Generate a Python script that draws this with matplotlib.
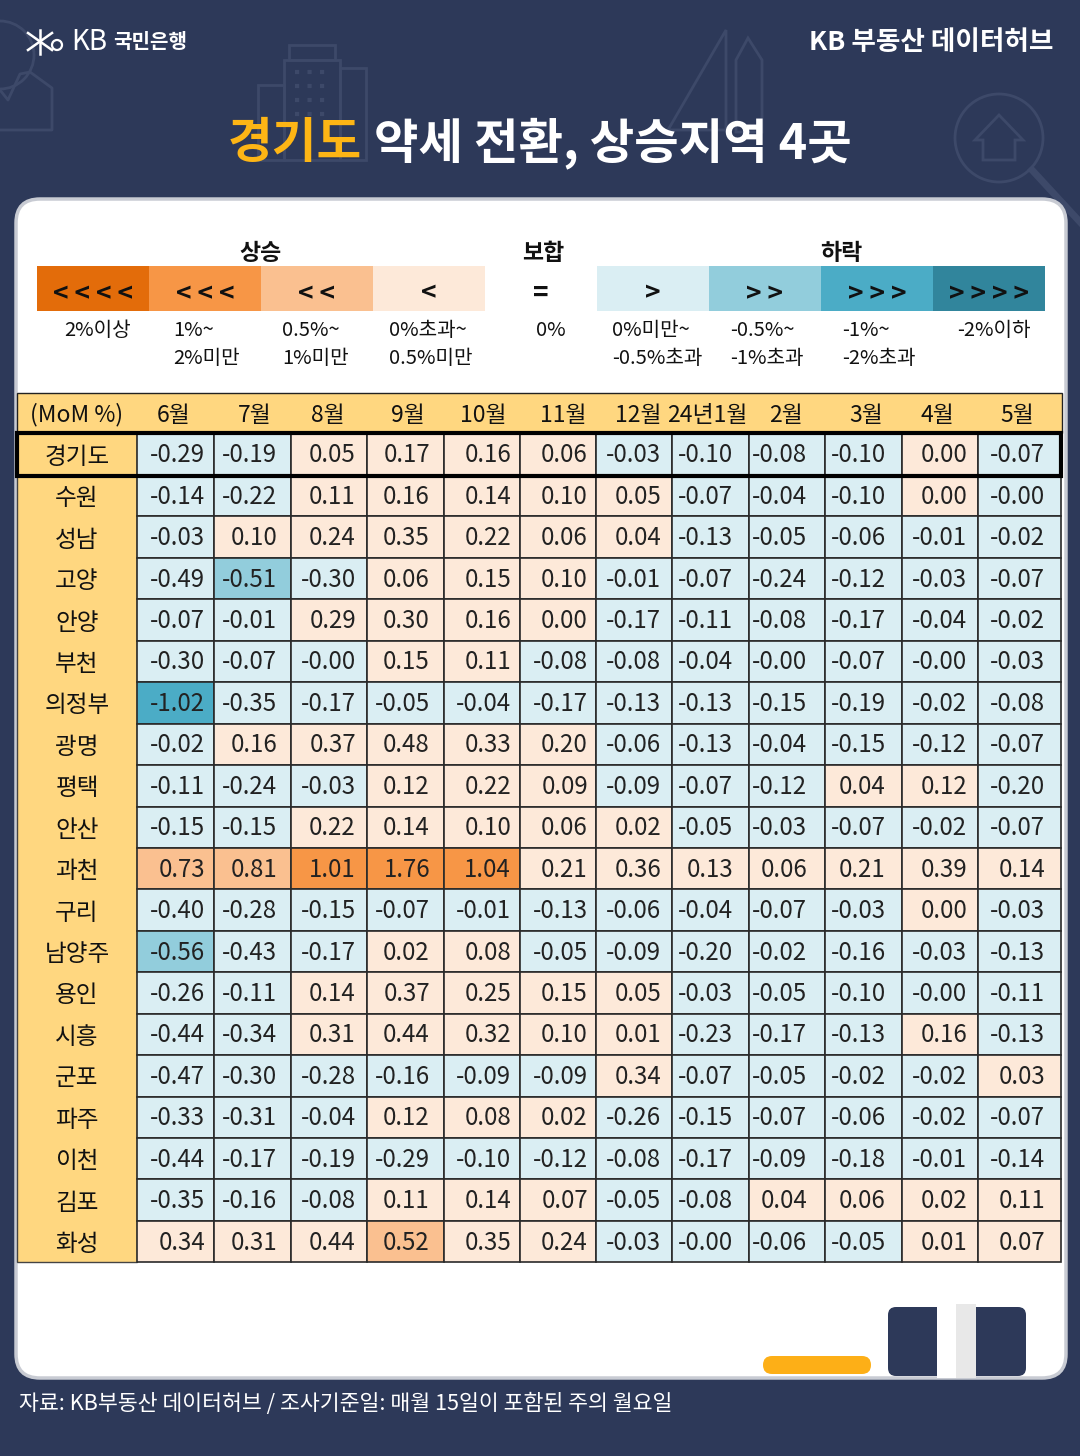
import matplotlib
matplotlib.use('Agg')
import matplotlib.pyplot as plt
from matplotlib.patches import Rectangle, FancyBboxPatch, Circle, Polygon

plt.rcParams['font.family'] = ['Noto Sans CJK KR', 'DejaVu Sans']

months = ['6월', '7월', '8월', '9월', '10월', '11월', '12월', '24년1월', '2월', '3월', '4월', '5월']
regions = ['경기도', '수원', '성남', '고양', '안양', '부천', '의정부', '광명', '평택', '안산',
           '과천', '구리', '남양주', '용인', '시흥', '군포', '파주', '이천', '김포', '화성']
# 문자열로 둔다 (-0.00 과 0.00 색이 다름)
values = [
    '-0.29 -0.19 0.05 0.17 0.16 0.06 -0.03 -0.10 -0.08 -0.10 0.00 -0.07'.split(),
    '-0.14 -0.22 0.11 0.16 0.14 0.10 0.05 -0.07 -0.04 -0.10 0.00 -0.00'.split(),
    '-0.03 0.10 0.24 0.35 0.22 0.06 0.04 -0.13 -0.05 -0.06 -0.01 -0.02'.split(),
    '-0.49 -0.51 -0.30 0.06 0.15 0.10 -0.01 -0.07 -0.24 -0.12 -0.03 -0.07'.split(),
    '-0.07 -0.01 0.29 0.30 0.16 0.00 -0.17 -0.11 -0.08 -0.17 -0.04 -0.02'.split(),
    '-0.30 -0.07 -0.00 0.15 0.11 -0.08 -0.08 -0.04 -0.00 -0.07 -0.00 -0.03'.split(),
    '-1.02 -0.35 -0.17 -0.05 -0.04 -0.17 -0.13 -0.13 -0.15 -0.19 -0.02 -0.08'.split(),
    '-0.02 0.16 0.37 0.48 0.33 0.20 -0.06 -0.13 -0.04 -0.15 -0.12 -0.07'.split(),
    '-0.11 -0.24 -0.03 0.12 0.22 0.09 -0.09 -0.07 -0.12 0.04 0.12 -0.20'.split(),
    '-0.15 -0.15 0.22 0.14 0.10 0.06 0.02 -0.05 -0.03 -0.07 -0.02 -0.07'.split(),
    '0.73 0.81 1.01 1.76 1.04 0.21 0.36 0.13 0.06 0.21 0.39 0.14'.split(),
    '-0.40 -0.28 -0.15 -0.07 -0.01 -0.13 -0.06 -0.04 -0.07 -0.03 0.00 -0.03'.split(),
    '-0.56 -0.43 -0.17 0.02 0.08 -0.05 -0.09 -0.20 -0.02 -0.16 -0.03 -0.13'.split(),
    '-0.26 -0.11 0.14 0.37 0.25 0.15 0.05 -0.03 -0.05 -0.10 -0.00 -0.11'.split(),
    '-0.44 -0.34 0.31 0.44 0.32 0.10 0.01 -0.23 -0.17 -0.13 0.16 -0.13'.split(),
    '-0.47 -0.30 -0.28 -0.16 -0.09 -0.09 0.34 -0.07 -0.05 -0.02 -0.02 0.03'.split(),
    '-0.33 -0.31 -0.04 0.12 0.08 0.02 -0.26 -0.15 -0.07 -0.06 -0.02 -0.07'.split(),
    '-0.44 -0.17 -0.19 -0.29 -0.10 -0.12 -0.08 -0.17 -0.09 -0.18 -0.01 -0.14'.split(),
    '-0.35 -0.16 -0.08 0.11 0.14 0.07 -0.05 -0.08 0.04 0.06 0.02 0.11'.split(),
    '0.34 0.31 0.44 0.52 0.35 0.24 -0.03 -0.00 -0.06 -0.05 0.01 0.07'.split(),
]

up_colors = ['#E36C0A', '#F79646', '#FAC090', '#FDE9D9']
down_colors = ['#DAEEF3', '#92CDDC', '#4BACC6', '#31859C']
up_marks = ['< < < <', '< < <', '< <', '<']
down_marks = ['>', '> >', '> > >', '> > > >']
up_labels = ['2%이상', '1%~\n2%미만', '0.5%~\n1%미만', '0%초과~\n0.5%미만']
down_labels = ['0%미만~\n-0.5%초과', '-0.5%~\n-1%초과', '-1%~\n-2%초과', '-2%이하']

NAVY = '#2D3959'
DECO = '#3D4969'
YELLOW = '#FFD780'

col_edges = [137, 214, 291, 367, 444, 520, 596, 672, 749, 825, 902, 978, 1061]
num_right = [205, 277, 356, 430, 511, 588, 661, 733, 807, 886, 967, 1045]
month_x = [174, 255, 328, 408, 483, 563, 638, 707, 786, 866, 937, 1017]


def cell_color(s):
    v = float(s)
    if s.startswith('-'):
        if v > -0.5:
            return down_colors[0]
        if v > -1:
            return down_colors[1]
        if v > -2:
            return down_colors[2]
        return down_colors[3]
    if v < 0.5:
        return up_colors[3]
    if v < 1:
        return up_colors[2]
    if v < 2:
        return up_colors[1]
    return up_colors[0]


fig = plt.figure(figsize=(10.8, 14.56), dpi=100, facecolor=NAVY)
ax = fig.add_axes([0, 0, 1, 1])
ax.set_xlim(0, 1080)
ax.set_ylim(1456, 0)
ax.axis('off')

# 배경 장식
deco = dict(fill=False, ec=DECO, lw=2, zorder=1)
ax.add_patch(Circle((0, 55), 34, **deco))
ax.plot([0, 8, 20, 30, 52, 52, 0], [90, 100, 74, 72, 88, 130, 130], color=DECO, lw=2, zorder=1)
ax.add_patch(Rectangle((284, 60), 56, 100, **deco))
ax.add_patch(Rectangle((289, 45), 46, 15, **deco))
ax.add_patch(Rectangle((258, 85), 26, 75, **deco))
ax.add_patch(Rectangle((340, 68), 26, 92, **deco))
for y in (72, 86, 100, 114):
    ax.plot([295, 331], [y, y], color=DECO, lw=3, ls=(0, (1, 2)), zorder=1)
ax.add_patch(Polygon([(726, 30), (726, 130), (668, 130)], **deco))
ax.add_patch(Polygon([(736, 132), (736, 60), (748, 38), (762, 60), (762, 132)], **deco))
ax.add_patch(Circle((999, 138), 44, **deco))
ax.add_patch(Polygon([(975, 140), (999, 115), (1023, 140), (1015, 140), (1015, 160), (983, 160), (983, 140)], **deco))
ax.plot([1032, 1080], [170, 222], color=DECO, lw=5, zorder=1)

# 상단 로고, 제목
ax.plot([28, 52], [33, 50], color='white', lw=1.8, zorder=3)
ax.plot([28, 52], [50, 33], color='white', lw=1.8, zorder=3)
ax.plot([40, 40], [30, 54], color='white', lw=1.8, zorder=3)
ax.add_patch(Circle((57, 45), 5, fill=False, ec='white', lw=1.6, zorder=3))
ax.text(71, 42, 'KB', color='white', fontsize=20, va='center', ha='left')
ax.text(113, 42, '국민은행', color='white', fontsize=14.5, va='center', ha='left', fontweight='bold')
ax.text(1053, 43, 'KB 부동산 데이터허브', color='white', fontsize=19.2, va='center', ha='right', fontweight='bold')
ax.text(362, 143, '경기도', color='#FDB515', fontsize=35, va='center', ha='right', fontweight='black')
ax.text(374, 143, '약세 전환, 상승지역 4곳', color='white', fontsize=34.8, va='center', ha='left', fontweight='black')

# 흰 카드
ax.add_patch(FancyBboxPatch((16, 199), 1050, 1179, boxstyle='round,pad=0,rounding_size=24',
                            fc='white', ec='#C8CBD3', lw=2.5, zorder=2))

# 범례
seg_w = 112
for i in range(4):
    x0 = 37 + i * seg_w
    ax.add_patch(Rectangle((x0, 266), seg_w, 45, fc=up_colors[i], ec='none', zorder=3))
    ax.text(x0 + seg_w / 2, 294, up_marks[i], fontsize=19, fontweight='bold', ha='center', va='center', color='#111', zorder=4)
    x1 = 597 + i * seg_w
    ax.add_patch(Rectangle((x1, 266), seg_w, 45, fc=down_colors[i], ec='none', zorder=3))
    ax.text(x1 + seg_w / 2, 294, down_marks[i], fontsize=19, fontweight='bold', ha='center', va='center', color='#111', zorder=4)
ax.text(261, 253, '상승', fontsize=16.5, fontweight='bold', ha='center', va='center', color='#111', zorder=4)
ax.text(543, 253, '보합', fontsize=16.5, fontweight='bold', ha='center', va='center', color='#111', zorder=4)
ax.text(841, 253, '하락', fontsize=16.5, fontweight='bold', ha='center', va='center', color='#111', zorder=4)
ax.text(541, 293, '=', fontsize=19, fontweight='bold', ha='center', va='center', color='#111', zorder=4)
ax.text(551, 330, '0%', fontsize=14.5, ha='center', va='center', color='#111', zorder=4)

up_x = [64, 173, 282, 389]
down_x = [612, 730, 842, 957]
for i in range(4):
    for labels, xs in ((up_labels, up_x), (down_labels, down_x)):
        for k, line in enumerate(labels[i].split('\n')):
            ax.text(xs[i], 330 + k * 29, line, fontsize=14.5, ha='left', va='center', color='#111', zorder=4)

# 표 헤더
ax.add_patch(Rectangle((17, 393), 1045, 40, fc=YELLOW, ec='#222', lw=1, zorder=3))
ax.text(77, 415, '(MoM %)', fontsize=16.5, ha='center', va='center', color='#111', zorder=5)
for name, x in zip(months, month_x):
    ax.text(x, 415, name, fontsize=16.5, ha='center', va='center', color='#111', zorder=5)

# 표 본문
row_h = 41.44
ax.add_patch(Rectangle((17, 433), 120, 829, fc=YELLOW, ec='#444', lw=1, zorder=3))
for r, (name, row) in enumerate(zip(regions, values)):
    if r == 0:
        y0, h = 433, 42
    else:
        y0, h = 475 + (r - 1) * row_h, row_h
    ax.text(77, y0 + h / 2 + 3, name, fontsize=17, ha='center', va='center', color='#111', zorder=5)
    for c, s in enumerate(row):
        ax.add_patch(Rectangle((col_edges[c], y0), col_edges[c + 1] - col_edges[c], h,
                               fc=cell_color(s), ec='#2A2A2A', lw=1.2, zorder=3))
        ax.text(num_right[c], y0 + h / 2 + 1, s, fontsize=17.3, fontweight='light', ha='right', va='center', color='#222', zorder=5)

ax.add_patch(Rectangle((17, 433), 1044, 43, fill=False, ec='black', lw=3, zorder=6))

# 하단 장식
ax.add_patch(FancyBboxPatch((763, 1356), 108, 18, boxstyle='round,pad=0,rounding_size=9',
                            fc='#FDAF17', ec='none', zorder=3))
ax.add_patch(FancyBboxPatch((888, 1307), 138, 69, boxstyle='round,pad=0,rounding_size=8',
                            fc=NAVY, ec='none', zorder=3))
ax.add_patch(Rectangle((937, 1304), 19, 74, fc='white', ec='none', zorder=4))
ax.add_patch(Rectangle((956, 1304), 20, 74, fc='#E8E8E8', ec='none', zorder=4))

ax.text(19, 1404, '자료: KB부동산 데이터허브 / 조사기준일: 매월 15일이 포함된 주의 월요일',
        color='white', fontsize=15.6, ha='left', va='center', fontweight='medium')

fig.savefig('out.png', dpi=100, facecolor=NAVY)
